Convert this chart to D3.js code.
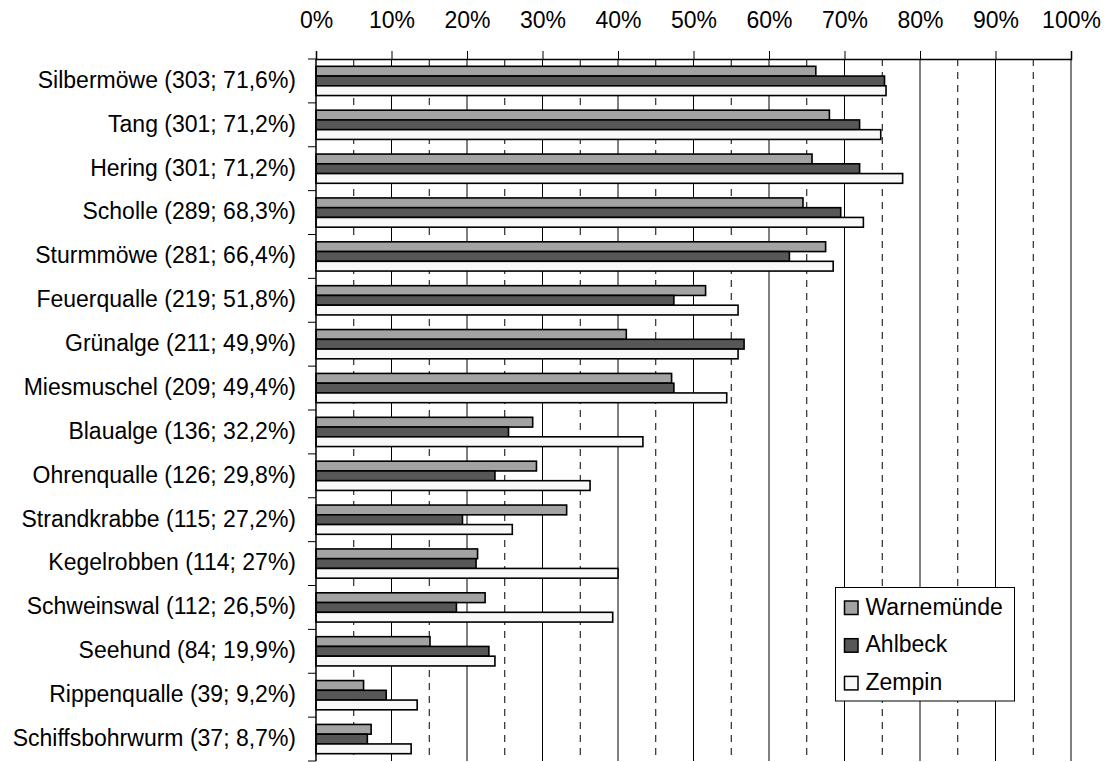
<!DOCTYPE html>
<html>
<head>
<meta charset="utf-8">
<script src="https://cdn.jsdelivr.net/npm/d3@7"></script>
<style>
  html, body { margin: 0; padding: 0; background: #fff; }
  svg text { font-family: "Liberation Sans", Arial, sans-serif; fill: #000; }
</style>
</head>
<body>
<svg id="chart" width="1105" height="762"></svg>
<script>
// Species and their overall counts / shares
const categories = [
  "Silbermöwe (303; 71,6%)",
  "Tang (301; 71,2%)",
  "Hering (301; 71,2%)",
  "Scholle (289; 68,3%)",
  "Sturmmöwe (281; 66,4%)",
  "Feuerqualle (219; 51,8%)",
  "Grünalge (211; 49,9%)",
  "Miesmuschel (209; 49,4%)",
  "Blaualge (136; 32,2%)",
  "Ohrenqualle (126; 29,8%)",
  "Strandkrabbe (115; 27,2%)",
  "Kegelrobben (114; 27%)",
  "Schweinswal (112; 26,5%)",
  "Seehund (84; 19,9%)",
  "Rippenqualle (39; 9,2%)",
  "Schiffsbohrwurm (37; 8,7%)"
];

// Percent per location
const warnemuende = [66.2, 68.0, 65.7, 64.5, 67.5, 51.6, 41.1, 47.1, 28.7, 29.2, 33.2, 21.4, 22.4, 15.1, 6.3, 7.3];
const ahlbeck     = [75.3, 72.0, 72.0, 69.5, 62.7, 47.4, 56.7, 47.4, 25.5, 23.7, 19.4, 21.2, 18.6, 22.9, 9.3, 6.8];
const zempin      = [75.5, 74.8, 77.7, 72.5, 68.5, 55.9, 55.9, 54.4, 43.3, 36.3, 26.0, 40.0, 39.3, 23.7, 13.4, 12.6];

const seriesNames = ["Warnemünde", "Ahlbeck", "Zempin"];
const seriesFills = ["#a3a3a3", "#575757", "#f8f8f8"];
const tickValues = [0, 10, 20, 30, 40, 50, 60, 70, 80, 90, 100];
const halfTicks = [5, 15, 25, 35, 45, 55, 65, 75, 85, 95];

const series = [warnemuende, ahlbeck, zempin];

const svg = d3.select("#chart");
const plotLeft = 316, plotRight = 1071, plotTop = 59, plotBottom = 761;

const x = d3.scaleLinear().domain([0, 100]).range([plotLeft, plotRight]);
const y = d3.scaleBand().domain(categories).range([plotTop, plotBottom])
  .paddingInner(1 / 3).paddingOuter(1 / 6);
const ySub = d3.scaleBand().domain(seriesNames).range([0, y.bandwidth()]);

// Grid: solid lines every 10 %, dashed lines in between
const grid = svg.append("g");
grid.selectAll("line.major").data(tickValues.slice(1)).join("line")
  .attr("class", "major")
  .attr("x1", d => x(d)).attr("x2", d => x(d))
  .attr("y1", plotTop).attr("y2", plotBottom)
  .attr("stroke", "#000").attr("stroke-width", 1);
grid.selectAll("line.minor").data(halfTicks).join("line")
  .attr("class", "minor")
  .attr("x1", d => x(d)).attr("x2", d => x(d))
  .attr("y1", plotTop).attr("y2", plotBottom)
  .attr("stroke", "#000").attr("stroke-width", 1)
  .attr("stroke-dasharray", "7,6");

// Bars
const groups = svg.append("g").selectAll("g").data(categories).join("g")
  .attr("transform", d => `translate(0,${y(d)})`);
groups.selectAll("rect")
  .data((d, i) => series.map((s, k) => ({ name: seriesNames[k], value: s[i], fill: seriesFills[k] })))
  .join("rect")
  .attr("x", x(0))
  .attr("y", d => ySub(d.name))
  .attr("width", d => x(d.value) - x(0))
  .attr("height", ySub.bandwidth())
  .attr("fill", d => d.fill)
  .attr("stroke", "#000")
  .attr("stroke-width", 1.6);

// Top axis with percent labels
const xAxis = svg.append("g")
  .attr("transform", `translate(0,${plotTop})`)
  .call(d3.axisTop(x).tickValues(tickValues).tickSize(8).tickPadding(23).tickFormat(d => d + "%"));
xAxis.select(".domain").attr("stroke", "#000").attr("stroke-width", 1.5);
xAxis.selectAll(".tick line").attr("stroke", "#000");
xAxis.selectAll("text").attr("font-size", 23)
  .attr("font-family", "Liberation Sans, Arial, sans-serif").attr("fill", "#000");

// Left axis with category labels
const yAxis = svg.append("g").attr("transform", `translate(${plotLeft},0)`);
yAxis.append("line")
  .attr("x1", 0).attr("x2", 0).attr("y1", plotTop).attr("y2", plotBottom)
  .attr("stroke", "#000").attr("stroke-width", 1.5);
const boundaries = d3.range(categories.length + 1).map(i => plotTop + i * y.step());
yAxis.selectAll("line.tick").data(boundaries).join("line")
  .attr("class", "tick")
  .attr("x1", -8).attr("x2", 0)
  .attr("y1", d => d).attr("y2", d => d)
  .attr("stroke", "#000");
yAxis.selectAll("text").data(categories).join("text")
  .attr("x", -20)
  .attr("y", d => y(d) + y.bandwidth() / 2)
  .attr("dy", "0.3em")
  .attr("text-anchor", "end")
  .attr("font-size", 23)
  .text(d => d);

// Legend
const legend = svg.append("g").attr("transform", "translate(835.5,587.5)");
legend.append("rect")
  .attr("width", 179).attr("height", 113.5)
  .attr("fill", "#fff").attr("stroke", "#000").attr("stroke-width", 1);
const items = legend.selectAll("g.item").data(seriesNames).join("g")
  .attr("class", "item")
  .attr("transform", (d, i) => `translate(9,${13.5 + i * 37.7})`);
items.append("rect")
  .attr("width", 13.5).attr("height", 13.5)
  .attr("fill", (d, i) => seriesFills[i])
  .attr("stroke", "#000").attr("stroke-width", 1.5);
items.append("text")
  .attr("x", 21).attr("y", 13.5)
  .attr("font-size", 23)
  .text(d => d);
</script>
</body>
</html>
